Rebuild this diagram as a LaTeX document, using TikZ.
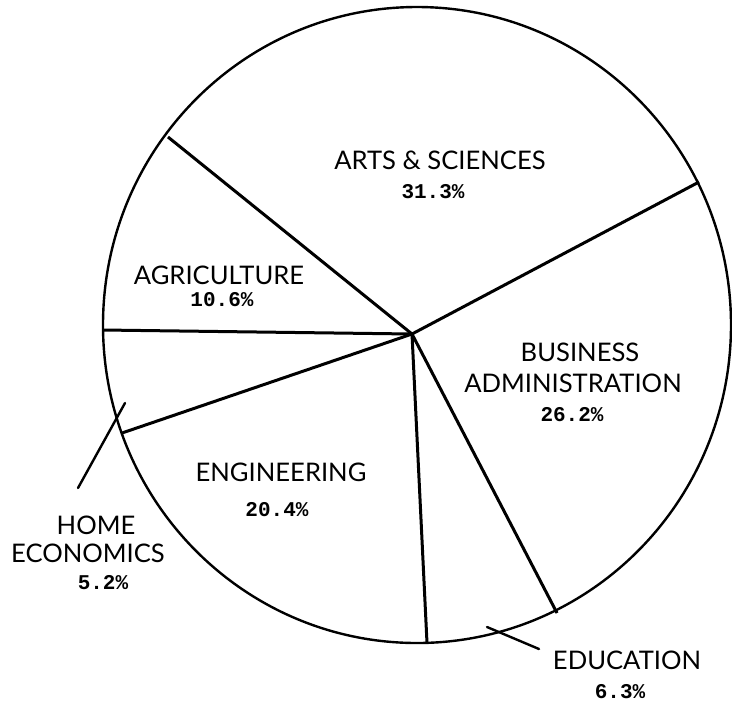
\documentclass[tikz,border=0pt]{standalone}
\usepackage{fontspec}
\setsansfont{Lato}
\setmonofont{Liberation Mono}
\usetikzlibrary{calc}

\begin{document}
\begin{tikzpicture}[x=.5pt, y=-.5pt,
  lbl/.style={font=\sffamily\fontsize{12.8}{15}\selectfont, inner sep=0},
  pct/.style={font=\ttfamily\bfseries\fontsize{10.5}{12}\selectfont, inner sep=0},
  spoke/.style={black, line width=1.5pt},
  pointer/.style={black, line width=1.2pt, line cap=round}]
\useasboundingbox (0,0) rectangle (732,703);
\coordinate (O) at (412,334);
\draw[black, line width=1.2pt] (417,325) ellipse [x radius=314, y radius=318];
% rim points of the slices
\foreach \name/\x/\y in {agriarts/168/137, artsbus/699/182, agrihome/103/330,
                        homeeng/122/433, engedu/427/643, edubus/557/613} {
 \coordinate (\name) at (\x,\y);
 \draw[spoke] (O) -- (\name);
}
% labels
\node[lbl] (arts) at (440,160) {ARTS \& SCIENCES};
\node[pct] (artsp) at (433,192) {31.3\%};
\node[lbl] (agri) at (219,275) {AGRICULTURE};
\node[pct] (agrip) at (222,300) {10.6\%};
\node[lbl] (bus) at (580,352) {BUSINESS};
\node[lbl] (adm) at (573,383) {ADMINISTRATION};
\node[pct] (busp) at (572,415) {26.2\%};
\node[lbl] (eng) at (281,472) {ENGINEERING};
\node[pct] (engp) at (277,510) {20.4\%};
\node[lbl] (home) at (96,525) {HOME};
\node[lbl] (econ) at (88,553) {ECONOMICS};
\node[pct] (homep) at (103,583) {5.2\%};
\node[lbl] (edu) at (627,660) {EDUCATION};
\node[pct] (edup) at (620,692) {6.3\%};
% pointers
\coordinate (hometip) at (125,403);
\coordinate (hometail) at (78,488);
\draw[pointer] (hometip) -- (hometail);
\coordinate (edutip) at (487,627);
\coordinate (edutail) at (539,649);
\draw[pointer] (edutip) -- (edutail);
\end{tikzpicture}
\end{document}
